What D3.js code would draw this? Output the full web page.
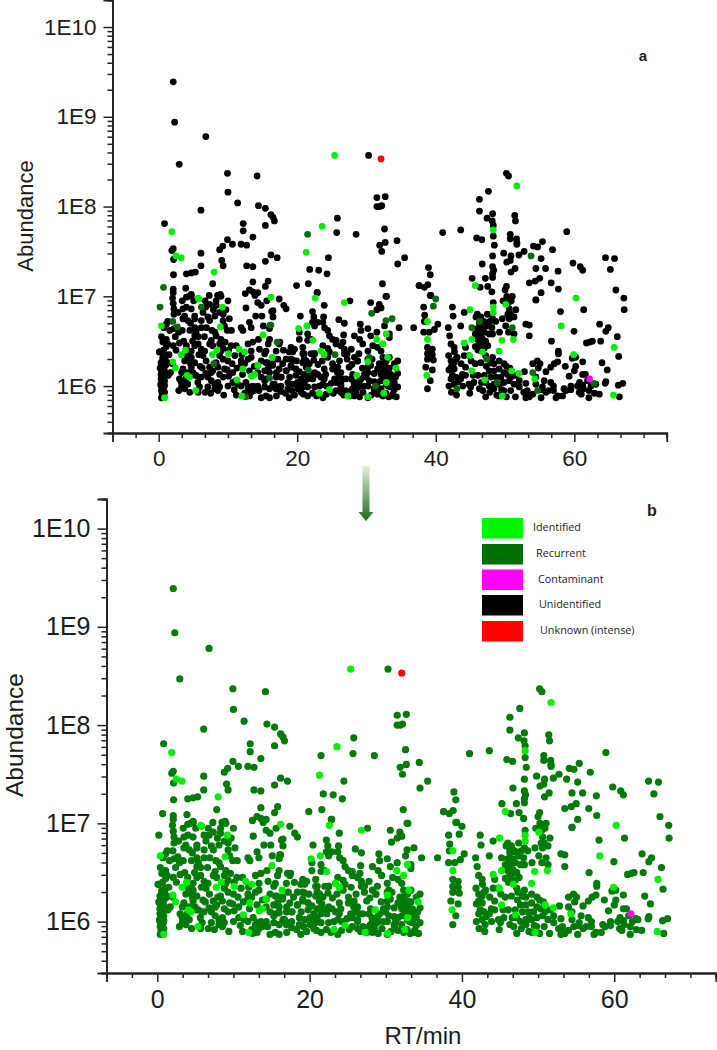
<!DOCTYPE html>
<html>
<head>
<meta charset="utf-8">
<script src="https://cdn.jsdelivr.net/npm/d3@7"></script>
<style>
  html, body { margin: 0; padding: 0; background: #fff; }
  svg { display: block; }
  text { font-family: "Liberation Sans", Arial, sans-serif; fill: #1c1c1c; }
</style>
</head>
<body>
<div id="chart"></div>
<script>
// each point is [RT in min, log10 of abundance]
const unidentified = [
[6.8,8.78],[2.96,8.47],[9.93,8.37],[14.2,8.34],[10,8.16],[11.4,8.04],[14.4,8.01],[15.4,7.98],[6.1,7.96],[16.2,7.91],[16.5,7.88],[16.7,7.84],[0.84,7.81],[12.2,7.81],[15.4,7.79],[12.2,7.73],[13.6,7.66],[9.93,7.63],[10.65,7.58],[11.9,7.58],[12.7,7.57],[9.25,7.56],[8.8,7.52],[2.1,7.53],[1.9,7.51],[6.1,7.48],[16.2,7.46],[17.1,7.43],[2.14,7.41],[15.4,7.39],[9.1,7.4],[9.3,7.34],[6.1,7.34],[12.7,7.34],[13.6,7.33],[5.3,7.27],[4.7,7.26],[4,7.25],[2.14,7.24],[13.6,7.16],[15.8,7.17],[7.8,7.14],[15.4,7.11],[3.9,7.09],[2.1,7.08],[2.1,7.04],[4.7,7.02],[4.35,7],[7.3,7.01],[8.5,7.01],[8.9,7.02],[9,7],[13.1,7.07],[12.5,7.03],[13.6,7.05],[14.3,7.04],[13.9,7.01],[2,6.98],
[2.1,9.39],[2.3,8.94],[30.3,8.57],[31.5,8.1],[32.7,8.11],[31.5,8],[32.2,8.01],[31.9,8],[25.8,7.87],[25.7,7.71],[28.5,7.69],[32.6,7.75],[34.4,7.62],[32.7,7.6],[31.9,7.57],[32.2,7.5],[35.5,7.43],[34.5,7.36],[24.5,7.43],[21.8,7.3],[23.1,7.29],[24.3,7.25],[19.9,7.12],[21.6,7.14],[32.3,7.14],[22.9,7.04],[32.9,7],[37.6,7.12],
[0.4,5.87],[0.8,5.88],[0.5,5.91],[0.85,5.93],[0.4,5.95],[0.75,5.98],[0.35,6],[0.85,6.01],[0.45,6.03],[0.85,6.06],[0.35,6.08],[0.75,6.11],[0.35,6.13],[0.95,6.15],[0.4,6.17],[0.8,6.2],[0.45,6.23],[1.1,6.24],[0.35,6.26],[0.95,6.29],[0.6,6.32],[1.1,6.34],[0.15,6.38],[0.7,6.4],[1.1,6.44],[0.6,6.49],[1.1,6.52],[0.4,6.55],[1.1,6.69],[0.75,6.65],[1.3,6.72],[0.1,6.38],[0.6,6.3],[1.3,6.47],[1.3,6.26],[2,6.25],[0.3,6.02],[0.6,5.9],[0.65,6.07],[0.2,6.2],
[4,6.99],[3.4,6.95],[4.7,7.01],[5.05,6.95],[8.3,6.95],[7.36,6.91],[10,6.95],[8.3,6.9],[6.8,6.88],[4,6.88],[3.5,6.86],[4.7,6.86],[2.8,6.82],[2.2,6.86],[2.2,6.8],[3.75,6.78],[5.2,6.78],[6.4,6.82],[7.1,6.77],[5.2,6.75],[6.15,6.73],[3.5,6.75],[4.2,6.73],[9.3,6.8],[8.8,6.82],[10.2,6.75],[9.3,6.73],[9.5,6.67],[10.5,6.62],[8.1,6.78],[7.36,6.73],[5.2,6.65],[4.5,6.62],[6.15,6.65],[5.4,6.6],[8.1,6.6],[8.3,6.56],[9,6.52],[8.8,6.47],[7.6,6.51],[7.8,6.45],[9.6,6.49],[5.2,6.56],[5.7,6.47],[6.15,6.41],[5.2,6.45],[4.7,6.39],[4.1,6.34],[4.7,6.32],[5.2,6.26],[4.7,6.21],[4.95,6.15],[5.4,6.12],[3.75,6.28],[3.5,6.19],[3.3,6.15],[3.27,6.04],[3.75,5.97],[3.5,6.04],[4.2,6.02],[3.3,5.99],[3,6.08],[5.2,6.12],[5.65,6.04],[5.65,5.95],[4.45,6.3],[4.6,6.25],
[7.1,6.1],[7.6,6.06],[8.1,6.02],[7.1,5.99],[8.1,5.97],[8.55,5.95],[9.4,5.9],[5.9,5.99],[5.7,5.93],[5.9,6.1],[9,6.39],[8.8,6.34],[9.3,6.3],[8.3,6.26],[8.55,6.21],[9.5,6.19],[8.8,6.13],[9.3,6.1],[10.1,6.11],[10,6.28],[6.85,6.28],[7.35,6.21],[7.6,6.15],[6.4,6.34],[6.65,6.39],[7.36,6.47],[8.55,6.04],[10,6],[7.8,6.17],[6.15,6.1],[8.8,5.99],
[14.3,6.93],[14.8,6.9],[14,6.78],[13.1,6.71],[11.9,6.65],[12.15,6.62],[13.35,6.65],[16.3,6.83],[16.5,6.77],[16,6.64],[16,6.52],[15.8,6.47],[15.5,6.39],[16.95,6.39],[10.45,6.45],[11.2,6.45],[12.9,6.47],[13.6,6.49],[14.55,6.41],[13.35,6.39],[11.9,6.28],[12.4,6.25],[13.35,6.32],[14.8,6.28],[15.5,6.26],[15.8,6.19],[14.3,6.15],[14.8,6.1],[15.3,6.06],[16,6.15],[16.45,6.23],[17,6.15],[10.7,6.04],[11.4,6.02],[11.9,6],[12.6,6.04],[13.1,5.99],[13.6,6],[14.05,5.97],[14.5,5.95],[15.3,5.99],[16,5.97],[16.5,6],[17.2,5.99],[14.8,5.87],[15.5,5.89],[16,5.87],[13.35,5.93],[13.1,5.89],[17,5.89],
[22.85,7.04],[23.9,6.9],[27.6,6.95],[30.6,6.93],[31.85,6.91],[31.5,6.85],[32.1,6.87],[32.8,7],[17.4,6.97],[18.05,6.9],[18.4,6.86],[16.5,6.84],[20.45,6.78],[22.2,6.83],[22.4,6.77],[22.2,6.71],[22.5,6.67],[22.95,6.71],[23.7,6.71],[23.8,6.77],[23.95,6.65],[24.4,6.62],[24.65,6.56],[25.1,6.52],[25.6,6.51],[26,6.74],[26.8,6.7],[26.7,6.57],[26.6,6.49],[29.1,6.69],[29.2,6.62],[28.25,6.56],[30.2,6.64],[30.6,6.56],[31.5,6.6],[32.6,6.67],[33.3,6.58],[34.7,6.65],[20.3,6.6],[20.3,6.52],[21.5,6.58],[22,6.52],[21.5,6.51],[17.5,6.49],[17.4,6.47],
[19.1,6.43],[19.6,6.41],[18.85,6.38],[19.35,6.38],[20.8,6.43],[22.5,6.36],[22,6.36],[23.7,6.45],[24.4,6.42],[24.65,6.38],[24.4,6.32],[25.6,6.47],[26.3,6.45],[26.8,6.41],[27.2,6.36],[27.2,6.3],[28.25,6.32],[28.7,6.28],[29,6.52],[29.45,6.47],[30.2,6.39],[30.9,6.45],[31.6,6.43],[32.1,6.39],[32.35,6.32],[32.85,6.28],[33.3,6.32],[34.5,6.28],[21,6.36],[21,6.3],[20.8,6.26],[21.5,6.25],[21.3,6.21],[18.4,6.3],[19.35,6.29],[17.9,6.25],[17.4,6.19],[18.4,6.17],[19.1,6.21],[19.8,6.19],[20.3,6.16],[21,6.13],[21.7,6.12],[22.35,6.13],[22.95,6.13],[24.1,6.13],[23.9,6.08],[23.7,6.02],[25.1,6.19],[25.1,6.25],[26.1,6.28],[25.85,6.21],[26.3,6.15],[26.1,6.1],[25.6,6.04],[26.3,6.02],[26.55,6.08],[28,6.13],[27.8,6.08],[28.25,6.02],[29,6.06],[29.1,6],[29.7,6.13],[30.2,6.21],[29.95,6.1],[30.4,6.06],[30.2,6],[31.6,6.19],[31.85,6.25],[32.35,6.21],[32.85,6.17],[32.1,6.13],[32.6,6.12],[33.1,6.1],[32.1,6.06],[32.85,6.02],[33.5,6.13],[33.75,6.08],[33.5,5.99],[32.1,5.97],[34.3,5.88],[32.35,5.89],[31.15,5.95],[30.2,5.87],[29,5.88],[28.25,5.89],[28,5.97],[27,5.95],[26.3,5.93],[25.6,5.95],[23.7,5.87],[21.5,5.89],[20.55,5.93],[20.8,5.99],[20.05,5.97],[18.85,5.87],[17.65,5.94],[16.95,5.97],[17.65,6],[18.65,5.97],[16.7,6.02],[16.95,6.1],[17.65,6.1],[18.65,6.04],[19.35,6.02],[20.05,6.04],[20.55,6.08],[21,6.04],[21.5,5.99],[22.25,6.08],[22.5,5.99],[16.45,6.25],[34.5,6.14],[33.8,5.89],[34,6.04],[33.3,6.54],
[36.8,6.65],[38.4,6.79],[38.25,6.88],[39.3,7.01],[42.4,6.88],[42.5,6.78],[44.1,6.82],[38.35,6.72],[41.8,6.65],[38.25,6.6],[39.05,6.6],[39.8,6.63],[40.3,6.69],[42,6.56],[43.6,6.67],[42.2,6.47],[42.65,6.43],[41.85,6.34],[42.2,6.28],[42.65,6.26],[42.2,6.21],[42.65,6.19],[42.4,6.12],[42.2,6.08],[42.9,6.1],[42.65,6.02],[42.25,5.93],[44.1,6.34],[43.1,6.32],[43.65,6.25],[44.3,6.21],[43.85,6.13],[43.6,6.08],[44.8,6.02],[45.05,5.99],[44.3,6.43],[44.8,6.34],[38.8,6.43],[39.5,6.41],[38.8,6.36],[39.5,6.35],[39.65,6.29],[38.8,6.3],[38.55,6.21],[39.5,6.18],[39.2,6.06],[38.8,5.97],
[45.8,6.77],[46.5,6.77],[47.45,6.8],[48.2,6.75],[48.65,6.72],[46.3,6.7],[47,6.71],[46,6.64],[46.7,6.64],[47.45,6.67],[48.1,6.65],[46.3,6.58],[47,6.6],[47.7,6.58],[46,6.52],[46.7,6.53],[48.2,6.58],[46.3,6.47],[46.7,6.49],[46.4,6.42],[50.1,6.95],[51.05,7],[50.6,6.86],[51.55,6.85],[50.8,6.8],[51.3,6.77],[50.6,6.75],[50.1,6.67],[51.3,6.58],[53,6.69],[53.5,6.68],[53.5,6.56],[54.45,6.96],[48.3,6.93],[46.5,6.26],[48.2,6.32],[47.95,6.26],[48.4,6.25],[49.15,6.28],[47.7,6.17],[48.4,6.17],[49.15,6.19],[49.85,6.25],[49.85,6.15],[47,6.12],[47.95,6.1],[48.7,6.1],[49.4,6.1],[50.35,6.13],[47.2,6.04],[47.7,6],[48.4,6.02],[49.15,6.02],[49.85,6.04],[50.6,6.06],[51.3,6.02],[52.05,6.06],[52.05,5.99],[46.3,5.97],[47.2,5.88],[49.15,5.89],[49.8,5.95],[50.8,5.95],[51.5,5.88],[53,5.87],[53.5,5.88],[54,5.91],[54,6.25],[54.65,6.28],[54.45,6.1],[54.45,6.02],
[50.2,8.37],[50.5,8.34],[47.6,8.17],[46.3,8.08],[46.3,7.95],[48.2,7.92],[47.4,7.87],[48.15,7.84],[48.3,7.79],[51.4,7.9],[51.5,7.84],[50.75,7.69],[50.75,7.64],[51.65,7.64],[51.7,7.6],[51.7,7.58],[48.3,7.67],[45.9,7.65],[46.65,7.63],[48.45,7.57],[43.6,7.74],[41,7.71],[58.9,7.72],[55.4,7.61],[54.1,7.56],[54.7,7.55],[56.85,7.52],[52.75,7.5],[52,7.46],[50.85,7.45],[49.8,7.48],[48.2,7.45],[55.2,7.42],[64.5,7.43],[65.8,7.42],[50.25,7.38],[50.75,7.4],[59.8,7.37],[60.85,7.33],[61.2,7.29],[65.2,7.3],[46.7,7.36],[48.2,7.33],[48.35,7.29],[51.45,7.31],[50.85,7.27],[54.45,7.31],[55.85,7.31],[57.65,7.28],[48.2,7.25],[48.2,7.21],[45.25,7.2],[47.15,7.2],[55,7.2],[54.35,7.17],[56.65,7.15],[53.5,7.15],[38.95,7.32],[39.2,7.24],[37.6,7.12],[38.35,7.1],[38.85,7.13],[46.4,7.1],[47.5,7.11],[48.1,7.05],[50.2,7.11],[50,7.07],[57.7,7.08],[66,7.07],[55.2,7.04],[39.2,7.01],[50.25,7],[67.15,6.98],[54.45,6.96],[50.5,6.93],[61.35,6.85],[67.2,6.85],[58,6.83],
[63.65,6.69],[64.9,6.65],[64.55,6.61],[66.2,6.55],[59.95,6.61],[56.7,6.5],[63.8,6.5],[61.75,6.48],[62.25,6.49],[62.6,6.5],[57.7,6.39],[57.7,6.36],[59.7,6.31],[60.2,6.32],[66.4,6.33],[61.2,6.27],[64,6.26],[55.05,6.25],[57.6,6.27],[57.1,6.25],[56.6,6.21],[55.9,6.16],[58.7,6.22],[60.2,6.22],[60,6.17],[64.75,6.18],[61.2,6.13],[61.6,6.13],[59.25,6.11],[60.75,6.04],[61.9,6.06],[63.1,6.02],[64.55,6.05],[64.45,6.03],[66.35,6.01],[67,6.03],[55.65,6.06],[56.6,6.04],[57,6],[58.5,5.97],[59.5,6],[60.45,6],[61.2,6.01],[61.3,5.97],[62.1,5.95],[62.4,6],[63.6,5.91],[62.9,5.92],[60.7,5.93],[61,5.91],[59.5,5.96],[58.8,5.95],[57.6,5.89],[58.3,5.89],[57.35,5.87],[56.3,5.95],[57,5.95],[55.4,5.99],[55.2,5.87],[55.9,5.93],[62.1,5.87],[66.5,5.88],[53.5,5.89],
// second pass over the crowded bands
[11.2,6.06],[11.9,6.23],[12.1,6.13],[12.9,5.97],[13.8,5.95],[14.3,6],[13.1,6.17],[14.3,6.23],[15.3,6.36],[15.7,6.26],[15.3,6.17],[15.5,6.08],[16.5,6.02],[17.2,5.97],[17.7,6.1],[18.4,6.17],[19.1,6.3],[19.1,6.23],[19.8,6.12],[20.3,5.97],[20.8,6.04],[21.5,6.08],[22.5,6.15],[20.8,6.36],[21.3,6.28],[21.75,6.25],[22.5,6.36],[23.4,6.1],[23.9,6.19],[24.2,6],[25.4,6.08],[25.8,6.15],[26.3,6],[27,6.08],[27.5,6.21],[26.8,6.36],[28.2,6.04],[28.5,5.93],[29.2,6.08],[29.7,6],[30.2,6.15],[31.1,5.97],[32.1,6.15],[32.3,6.25],[32.8,6.21],[33.1,6],[33.8,6.04],[33.8,5.91],[31.6,6.04],[32.6,6.08],[30.6,6.23],[28.7,6.28],[30.2,6.3],
[18.3,5.92],[19.2,5.95],[19.6,5.9],[20.9,5.91],[22.2,5.92],[22.8,5.89],[23.2,6.0],[24.2,5.91],[24.9,6.03],[25.2,5.92],[26.7,5.9],[27.5,5.89],[27.8,5.95],[28.7,5.98],[29.5,5.93],[30.7,5.9],[31.1,6.05],[31.6,5.91],[32.8,5.92],[33.2,5.88],[34,5.96],[34.5,5.99],[33.3,6.2],[34,6.25],[34.2,6.1],[31.1,6.14],[30.8,6.3],[29.4,6.2],[28.9,6.36],[27.8,6.41],[27.9,6.24],[23,6.24],[22.4,6.29],[23.6,6.28],[18.9,6.1],[19.9,6.28],[17.2,6.3],[18,6.4],
[2.4,6.55],[2.2,6.64],[2.1,6.92],[2.9,6.6],[3,6.48],[2.1,6.45],[2.5,6.4],[1.6,6.62],[4,6.45],[3.6,6.5],[3.4,6.62],[4.6,6.7],[4.9,6.5],[5.7,6.55],[6.6,6.55],[6.9,6.65],[6.7,6.95],[7.7,6.62],[7.9,6.85],[9.7,6.85],[9.9,6.62],[9.3,6.42],[10.1,6.4],[10.6,6.25],[11,6.34],[6,6.22],[6.3,6.2],[6.8,6.14],[5.8,6.35],[4.2,6.15],[3.9,6.08],[2.9,5.95],[4.5,5.93],[6.7,5.93],[7.5,5.92],[9.9,6.18],[10.7,6.15],[11.3,6.2],[1.7,6.15],[1.4,6.12],[1.5,6.35],[12.4,5.92],[11.2,5.9],[10.9,5.96],[12,6.35],[12.9,6.3],[13.8,6.22],[14.4,6.52],[15.1,6.67],[14.9,6.78],[12.6,6.87],[15.6,6.95],
[42.9,6.3],[43.2,6.05],[43,5.9],[43.9,6],[42.7,6.38],[41.9,6.18],[41.9,6.0],[44.3,6.12],[45.4,6.12],[45.7,6.25],[45.1,6.28],[44.9,5.92],[45.5,6.04],[46.1,6.12],[46.6,6.04],[46.1,6.4],[47.3,6.22],[47.2,6.34],[46.8,5.95],[47.8,5.93],[48.4,5.97],[48.8,5.9],[49.5,5.96],[50.2,5.88],[50.2,6.22],[50.9,6.1],[50.7,6.2],[51.6,6.12],[52.7,5.93],[53,6.03],[52.8,6.16],[46.2,6.62],[46,6.8],[47.2,6.5],[47.5,6.45],[46.9,6.72],[47,6.42],[45.7,6.58],[45.7,6.44],[47.8,6.72],[49.2,6.6],[49.6,6.75],[49.7,6.95],[50.4,6.8],[50.5,6.6],[50.9,6.95],[53.2,5.95],[54.8,6.2],[55.3,5.96]
];
const identified = [
[25.4,8.57],[51.7,8.23],[1.9,7.72],[23.6,7.78],[21.3,7.49],[2.5,7.45],[3.25,7.43],[8,7.27],[16.2,6.99],[22.6,6.98],[5.7,6.98],[48.3,7.74],[45.7,7.12],[60.25,6.98],[58.1,6.67],[65.75,6.43],[59.9,6.35],[65.65,5.9],
[5.8,6.97],[9.2,6.88],[15.05,6.57],[3.85,6.4],[3.27,6.35],[2.05,6.27],[2.4,6.2],[7.75,6.35],[10.1,6.36],[11.6,6.41],[12.4,6.38],[8.9,6.66],[16.4,6.32],[14.3,6.23],[12.15,6.19],[13.85,6.13],[13.4,6.11],[4.1,6.12],[4.45,6.1],[12,5.89],[0.85,5.87],[0.4,6.67],[5.35,5.95],[11.3,6.07],[8.4,6.4],
[26.8,6.93],[21.4,6.67],[20.2,6.64],[22.25,6.51],[23.4,6.39],[23.9,6.35],[30.2,6.27],[32.85,6.58],[31.45,6.52],[32.35,6.47],[33.05,6.32],[34.25,6.2],[23.2,5.92],[24.65,5.96],[27.3,5.89],[30.25,5.88],[32.5,5.92],[32.85,6.04],[28.6,6.12],
[44.95,6.85],[48.3,6.88],[48.3,6.82],[50.1,6.91],[38.8,6.72],[38.8,6.52],[45.2,6.52],[44.1,6.48],[51.2,6.52],[49.55,6.51],[46.75,6.38],[49.15,6.39],[44.9,6.34],[38.7,6.12],[45.2,6.17],[50.95,6.17],[52,6.14],[54.3,6.08],[47.05,6.07],[49.6,5.89]
];
const recurrent = [
[21.5,7.69],[0.7,7.1],[0.2,6.88],[2.05,6.72],[2.7,6.66],[7.95,6.25],[16,6.09],[12.55,5.88],[16.1,6.68],[17.1,6.49],[6.15,6.88],[30.75,6.81],[32.8,6.73],[33.7,6.75],[25.45,6.35],[21.6,6.18],[30.4,6.32],[31.3,6],[16.2,6.68],[40,6.97],[39.65,6.89],[45.2,6.65],[51.05,6.65],[47.35,6.3],[54,6.15],[43.05,5.97],[46.3,6.72],[48.85,6.04],[53.75,7.45],[62.85,6.03],[54.7,5.95]
];
const contaminant = [[62.2,6.08]];
const unknownIntense = [[32.1,8.53]];

const xMajor = [0, 20, 40, 60];
const xMinor = d3.range(-2, 23).map((i) => (i * 10) / 3).filter((v) => Math.abs(v % 20) > 0.01);
const yMajor = [1e6, 1e7, 1e8, 1e9, 1e10];
const yLabels = ["1E6", "1E7", "1E8", "1E9", "1E10"];
const yMinor = [3e5, 4e5, 5e5, 6e5, 7e5, 8e5, 9e5];
[1e6, 1e7, 1e8, 1e9].forEach((d) => d3.range(2, 10).forEach((k) => yMinor.push(d * k)));
yMinor.push(2e10);

const legendNames = ["Identified", "Recurrent", "Contaminant", "Unidentified", "Unknown (intense)"];
const legendColors = ["#00f500", "#007000", "#ff00ff", "#000000", "#ff0000"];

const LIME = "#00ee00", FOREST = "#007a08", DEEP = "#0a6a12";

const svg = d3.select("#chart").append("svg").attr("width", 717).attr("height", 1050);

function drawPanel(p) {
  const x = d3.scaleLinear().domain([-20 / 3, 220 / 3]).range([p.left, p.right]);
  const y = d3.scaleLog().domain([3e5, 2e10]).range([p.bottom, p.top]);
  const g = svg.append("g");

  // the classed compounds stay visible on top of the crowd
  const layers = [
    [unidentified, p.unidentifiedColor],
    [recurrent, p.recurrentColor],
    [identified, LIME],
    [contaminant, "#ff00ff"],
    [unknownIntense, "#ff0000"],
  ];
  layers.forEach(([rows, color]) => {
    g.append("g")
      .selectAll("circle")
      .data(rows)
      .join("circle")
      .attr("cx", (d) => x(d[0]))
      .attr("cy", (d) => y(10 ** d[1]))
      .attr("r", p.radius)
      .attr("fill", color);
  });

  // minor ticks first, then the labelled ones
  const xMinorAxis = g.append("g").attr("transform", `translate(0,${p.bottom})`)
    .call(d3.axisBottom(x).tickValues(xMinor).tickSize(5).tickFormat(""));
  const xAxis = g.append("g").attr("transform", `translate(0,${p.bottom})`)
    .call(d3.axisBottom(x).tickValues(xMajor).tickSize(9).tickPadding(8).tickFormat(d3.format("d")));
  const yMinorAxis = g.append("g").attr("transform", `translate(${p.left},0)`)
    .call(d3.axisLeft(y).tickValues(yMinor).tickSize(5).tickFormat(""));
  const yAxis = g.append("g").attr("transform", `translate(${p.left},0)`)
    .call(d3.axisLeft(y).tickValues(yMajor).tickSize(9).tickPadding(7).tickFormat((d, i) => yLabels[i]));

  [xMinorAxis, xAxis, yMinorAxis, yAxis].forEach((a) => {
    a.selectAll("line").attr("stroke", "#222").attr("stroke-width", 1.5);
    a.select(".domain").attr("stroke", "#222").attr("stroke-width", 1.8);
    a.selectAll("text").style("font-size", `${p.fontSize}px`).attr("fill", "#1c1c1c");
  });

  g.append("text")
    .attr("transform", `translate(${p.titleX},${p.titleY}) rotate(-90)`)
    .attr("text-anchor", "middle")
    .style("font-size", `${p.titleSize}px`)
    .text("Abundance");
}

drawPanel({
  left: 112.5, right: 666.7, top: 0, bottom: 433, radius: 3.4, fontSize: 22.5,
  titleX: 33, titleY: 216, titleSize: 22,
  recurrentColor: DEEP, unidentifiedColor: "#000",
});
drawPanel({
  left: 106.5, right: 715.8, top: 499, bottom: 973, radius: 3.6, fontSize: 25,
  titleX: 23, titleY: 735, titleSize: 24.5,
  recurrentColor: FOREST, unidentifiedColor: FOREST,
});

svg.append("text").attr("x", 423).attr("y", 1044).attr("text-anchor", "middle")
  .style("font-size", "24px").text("RT/min");

svg.append("text").attr("x", 643).attr("y", 61).attr("text-anchor", "middle")
  .style("font-size", "15px").style("font-weight", "bold").attr("fill", "#000").text("a");
svg.append("text").attr("x", 652).attr("y", 516).attr("text-anchor", "middle")
  .style("font-size", "16px").style("font-weight", "bold").attr("fill", "#000").text("b");

// arrow between the two panels
const grad = svg.append("defs").append("linearGradient").attr("id", "arrowFade")
  .attr("x1", 0).attr("y1", 0).attr("x2", 0).attr("y2", 1);
grad.append("stop").attr("offset", "0%").attr("stop-color", "#e6eedd");
grad.append("stop").attr("offset", "100%").attr("stop-color", "#1f6a1f");
svg.append("path")
  .attr("d", "M362.5,466 H369.5 V512 H373.5 L366,521 L358.5,512 H362.5 Z")
  .attr("fill", "url(#arrowFade)");

// legend
const legendTop = [518, 544, 569.5, 595, 621];
const labelLeft = [533, 536, 538, 539, 540];
const legendG = svg.append("g");
legendNames.forEach((name, i) => {
  legendG.append("rect").attr("x", 482).attr("y", legendTop[i]).attr("width", 41).attr("height", 20.5)
    .attr("fill", legendColors[i]);
  legendG.append("text").attr("x", labelLeft[i]).attr("y", legendTop[i] + 13)
    .style("font-family", "'Open Sans', sans-serif").style("font-size", "10.8px").attr("fill", "#333")
    .text(name);
});
</script>
</body>
</html>
